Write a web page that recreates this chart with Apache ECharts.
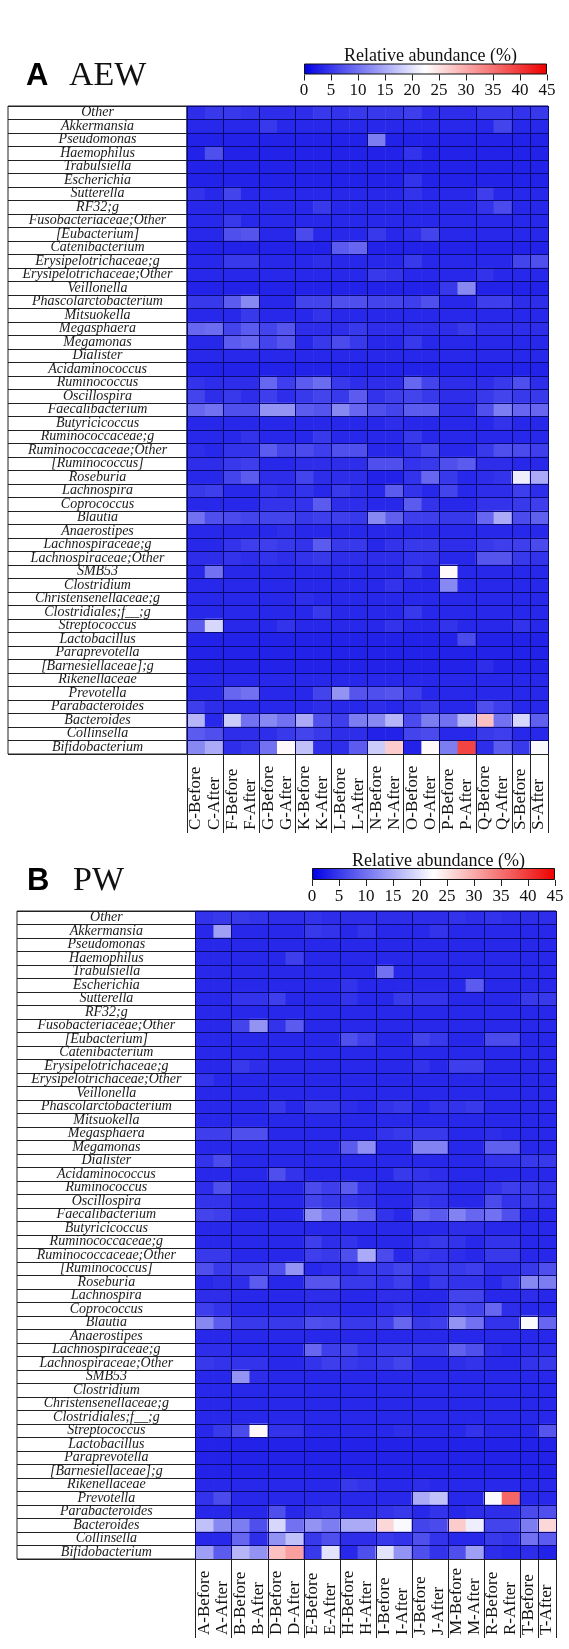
<!DOCTYPE html>
<html><head><meta charset="utf-8">
<script src="https://cdn.jsdelivr.net/npm/echarts@6/dist/echarts.min.js"></script>
<style>html,body{margin:0;padding:0;background:#fff}#c{width:569px;height:1649px}</style>
</head><body><div id="c"></div>
<script>
const taxa = ['Other','Akkermansia','Pseudomonas','Haemophilus','Trabulsiella','Escherichia','Sutterella','RF32;g','Fusobacteriaceae;Other','[Eubacterium]','Catenibacterium','Erysipelotrichaceae;g','Erysipelotrichaceae;Other','Veillonella','Phascolarctobacterium','Mitsuokella','Megasphaera','Megamonas','Dialister','Acidaminococcus','Ruminococcus','Oscillospira','Faecalibacterium','Butyricicoccus','Ruminococcaceae;g','Ruminococcaceae;Other','[Ruminococcus]','Roseburia','Lachnospira','Coprococcus','Blautia','Anaerostipes','Lachnospiraceae;g','Lachnospiraceae;Other','SMB53','Clostridium','Christensenellaceae;g','Clostridiales;f__;g','Streptococcus','Lactobacillus','Paraprevotella','[Barnesiellaceae];g','Rikenellaceae','Prevotella','Parabacteroides','Bacteroides','Collinsella','Bifidobacterium'];

const aewSamples = ['C-Before','C-After','F-Before','F-After','G-Before','G-After','K-Before','K-After','L-Before','L-After','N-Before','N-After','O-Before','O-After','P-Before','P-After','Q-Before','Q-After','S-Before','S-After'];
const pwSamples = ['A-Before','A-After','B-Before','B-After','D-Before','D-After','E-Before','E-After','H-Before','H-After','I-Before','I-After','J-Before','J-After','M-Before','M-After','R-Before','R-After','T-Before','T-After'];

// Relative abundance (%) per taxon (rows, top to bottom) and sample (columns)
const aewValues = [
[4,5,5,4.5,4,4,4,5,4.5,5,5,5,5.5,4,4,4,5,5,4.5,5],
[3.5,3.5,3.5,3.5,5,3.5,3.5,3.5,3.5,3.5,3.5,3.5,3.5,3.5,3.5,3.5,3.5,6,3.5,3.5],
[3,3,3,3,3,3,3,3,3,3,11,3,3,3,3,3,3,3,3,3],
[3,7,3,3,3,3,3,3,3,3,3,3,4.5,3,3,3,3,3,3,3],
[3,3,3,3,3,3,3,3,3,3,3,3,3,3,3,3,3,3,3,3],
[3,3,3,3,3,3,3,3,3,3,3,3,4.5,3,3,3,3,3,3,3],
[4.5,3.5,6,3.5,3.5,3.5,3.5,3.5,3.5,3.5,3.5,3.5,4.5,3.5,3.5,3.5,5.5,3.5,3.5,3.5],
[3.5,3.5,3.5,3.5,3.5,3.5,3.5,5,3.5,3.5,3.5,3.5,3.5,3.5,3.5,3.5,4.5,6.5,3.5,3.5],
[3.5,3.5,5,3.5,3.5,3.5,3.5,3.5,3.5,3.5,3.5,3.5,3.5,3.5,3.5,3.5,3.5,3.5,3.5,3.5],
[3.5,3.5,7,7.5,3.5,3.5,6.5,3.5,3.5,3.5,5,3.5,4,6,3.5,3.5,3.5,3.5,3.5,3.5],
[3,3,3,3,3,3,3,3,8,9,3,3,3,3,3,3,3,3,3,3],
[3.5,3.5,5,5,3.5,3.5,3.5,4,3.5,3.5,3.5,3.5,5,3.5,3.5,3.5,3.5,3.5,6,7],
[3.5,3.5,3.5,3.5,3.5,3.5,3.5,3.5,3.5,3.5,5,4.5,3.5,3.5,3.5,3.5,4.5,3.5,3.5,3.5],
[3,3,3,3,3,3,3,3,3,3,3,3,3,3,5,12,3,3,3,3],
[5,5,8,12,3.5,3.5,6,6,7,7,6,6,5.5,7,3.5,3.5,5.5,5.5,4,4],
[3.5,3.5,3.5,5,3.5,3.5,3.5,4.5,3.5,3.5,3.5,3.5,3.5,3.5,3.5,3.5,3.5,3.5,3.5,3.5],
[9,9.5,6,8,6,7.5,4,4,4,5,4,4,4,4,4,5,4,4,4,4],
[3.5,3.5,8,9,6,7.5,3.5,5,6.5,5,3.5,3.5,5,3.5,3.5,3.5,3.5,3.5,3.5,3.5],
[3.5,3.5,3.5,3.5,3.5,3.5,3.5,3.5,3.5,3.5,3.5,3.5,3.5,3.5,3.5,3.5,3.5,3.5,3.5,3.5],
[3,3,3,3,3,3,3,3,3,3,3,3,3,3,3,3,3,3,3,3],
[4.5,4,4,4,9,5.5,8,9.5,5,4,4,4,9,6,4,4,4,5,7,4],
[6,4,5,4,5.5,4,5,6,5,8,4.5,5.5,6,5,4,4,5,6,5,5],
[9,10,7,7,13,13,8,7.5,12,9,7,6,8,8,4,4,7,11,9,9],
[3.5,3.5,3.5,3.5,3.5,3.5,3.5,3.5,3.5,3.5,3.5,4,3.5,3.5,3.5,3.5,3.5,4.5,3.5,3.5],
[3.5,3.5,3.5,4.5,3.5,3.5,3.5,5,3.5,3.5,3.5,3.5,5,3.5,3.5,3.5,3.5,3.5,3.5,3.5],
[4,3.5,4.5,4.5,8,6,6.5,5.5,7,7,3.5,3.5,4.5,6,3.5,3.5,5,7,6.5,5.5],
[4,4,5,5.5,3.5,3.5,4,4,4,4,7,7,4.5,5,7,8,4,4,3.5,3.5],
[3.5,3.5,6,8,4,4,6,4,4,4,3,3,4.5,9,5,3.5,4,4.5,21,15],
[5,5.5,3.5,3.5,4.5,4,4.5,3.5,5,4,3.5,8,4.5,3.5,6,3.5,4,4,5.5,4],
[3.5,3.5,3.5,3.5,4.5,4.5,4.5,8,4,4,3.5,3.5,8,4.5,3.5,3.5,4.5,4.5,5,5.5],
[10,7,6.5,6,6,6,5,5.5,5.5,5,12,8.5,5.5,5.5,5,5,9,15,6.5,8.5],
[3.5,3.5,3.5,3.5,3.5,4,3.5,3.5,3.5,3.5,3.5,3.5,3.5,3.5,3.5,3.5,3.5,3.5,3.5,3.5],
[3.5,3.5,4.5,5.5,5.5,5,4.5,8,5,5,3.5,4.5,5,5,4,4,5,5.5,5.5,6.5],
[4,4,4.5,4,4.5,4,4.5,5,4,4,4,4,4.5,4.5,3.5,3.5,7.5,7.5,5,4.5],
[3.5,10,3.5,3.5,3.5,3.5,3.5,3.5,3.5,3.5,3.5,3.5,5,3.5,23,3.5,3.5,3.5,3.5,3.5],
[3.5,3.5,3.5,3.5,3.5,3.5,3.5,3.5,3.5,3.5,3.5,4.5,3.5,3.5,12,3.5,3.5,3.5,3.5,3.5],
[3.5,3.5,3.5,3.5,3.5,3.5,4,3.5,3.5,3.5,3.5,3.5,3.5,3.5,3.5,3.5,3.5,3.5,3.5,3.5],
[3.5,3.5,3.5,3.5,3.5,3.5,3.5,5,3.5,3.5,3.5,3.5,5,3.5,3.5,3.5,3.5,3.5,3.5,3.5],
[8,19,3.5,3.5,3.5,4.5,3.5,3.5,3.5,3.5,3.5,4.5,3.5,3.5,4.5,3.5,3.5,3.5,4.5,3.5],
[3,3,3,3,3,3,3,3,3,3,3,3,3,3,3,6.5,3,3,3,3],
[3,3,3,3,3,3,3,3,3,3,3,3,3,3,3,3,3,3,3,3],
[3,3,3,3,3,3,3,3,3,3,3,3,3,3,3,3,4,3,3,3],
[3.5,3.5,3.5,3.5,3.5,3.5,3.5,3.5,3.5,3.5,3.5,3.5,3.5,3.5,3.5,3.5,3.5,3.5,3.5,3.5],
[3.5,3.5,9,10,3.5,3.5,3.5,6,13,7.5,7,7.5,5.5,3.5,3.5,3.5,3.5,3.5,3.5,3.5],
[5.5,4,3.5,3.5,3.5,3.5,3.5,4,3.5,3.5,4,3.5,4,5,3.5,3.5,7,5.5,3.5,3.5],
[16,3.5,18,10,12,10,15,7,5.5,11,12,16,6.5,11,10,16,28,10,19,8.5],
[8,7,4,4,4,5,6,5,4,4,3,3,6,6.5,3.5,3.5,5,5.5,3.5,3.5],
[12,15,4,5,10,23,17,4,4,8,18,27,3,23,11,39,4,8,5,22]
];

const pwValues = [
[4.5,5,5,4.5,4,4,4.5,4,4,4,4,4,4,4,4.5,4,4.5,4,4,4],
[3.5,14,3.5,3.5,3.5,3.5,5,4.5,3.5,4.5,3.5,3.5,3.5,4.5,3.5,3.5,3.5,3.5,3.5,3.5],
[3.5,3.5,3.5,3.5,3.5,3.5,3.5,3.5,3.5,3.5,3.5,3.5,3.5,3.5,3.5,3.5,3.5,3.5,3.5,3.5],
[3.5,3.5,3.5,3.5,3.5,5.5,3.5,3.5,3.5,3.5,3.5,3.5,3.5,3.5,3.5,3.5,3.5,3.5,3.5,3.5],
[3.5,3.5,3.5,3.5,3.5,3.5,3.5,3.5,3.5,3.5,10,3.5,3.5,3.5,3.5,3.5,3.5,3.5,3.5,3.5],
[3.5,3.5,3.5,3.5,3.5,3.5,3.5,3.5,4.5,3.5,3.5,3.5,3.5,3.5,3.5,8,3.5,3.5,3.5,3.5],
[3.5,3.5,4.5,4.5,5.5,3.5,3.5,3.5,4.5,3.5,3.5,5,4.5,4.5,3.5,3.5,3.5,3.5,5,5],
[3.5,3.5,3.5,3.5,3.5,3.5,3.5,3.5,3.5,3.5,3.5,3.5,3.5,3.5,3.5,3.5,3.5,3.5,3.5,3.5],
[3.5,3.5,6,13,4.5,8,3.5,3.5,3.5,3.5,3.5,3.5,3.5,3.5,3.5,3.5,3.5,3.5,3.5,3.5],
[3.5,3.5,3.5,3.5,3.5,3.5,3.5,3.5,7,5.5,3.5,3.5,6,5,3.5,3.5,6.5,6.5,3.5,3.5],
[3.5,3.5,3.5,3.5,3.5,3.5,3.5,3.5,3.5,3.5,3.5,3.5,3.5,3.5,3.5,3.5,3.5,3.5,3.5,3.5],
[3.5,3.5,5,4,3.5,3.5,3.5,3.5,3.5,3.5,3.5,3.5,4.5,3.5,5.5,5.5,3.5,3.5,3.5,3.5],
[4.5,3.5,3.5,3.5,3.5,3.5,3.5,3.5,3.5,3.5,3.5,3.5,3.5,3.5,3.5,3.5,3.5,3.5,3.5,3.5],
[3.5,3.5,3.5,3.5,3.5,3.5,3.5,3.5,3.5,3.5,3.5,3.5,3.5,3.5,3.5,3.5,3.5,3.5,3.5,3.5],
[3.5,3.5,3.5,3.5,5,3.5,5,5,4,3.5,4.5,5,3.5,4.5,4.5,5,3.5,3.5,3.5,3.5],
[3.5,3.5,3.5,3.5,3.5,3.5,3.5,3.5,3.5,3.5,3.5,3.5,3.5,3.5,3.5,3.5,3.5,3.5,3.5,3.5],
[5.5,5.5,7,7,3.5,3.5,3.5,3.5,3.5,3.5,4.5,5,5,5,3.5,3.5,4,3.5,3.5,3.5],
[3.5,3.5,3.5,3.5,3.5,3.5,3.5,3.5,8,12.5,3.5,3.5,11.5,11.5,3.5,3.5,8.5,8.5,3.5,3.5],
[4.5,6.5,3.5,3.5,3.5,3.5,3.5,3.5,3.5,3.5,3.5,3.5,3.5,3.5,3.5,3.5,4.5,4.5,5,5],
[3.5,3.5,3.5,3.5,7,4.5,3.5,3.5,3.5,3.5,3.5,5,4.5,4,3.5,3.5,3.5,3.5,3.5,3.5],
[4,7,3.5,3.5,3.5,3.5,6.5,5.5,8,4.5,3.5,3.5,4.5,4.5,3.5,3.5,4.5,5.5,5,4.5],
[4.5,4.5,3.5,3.5,3.5,3.5,6,5,5,4.5,3.5,3.5,5,4.5,3.5,3.5,6.5,4.5,5,4.5],
[6,5.5,3.5,3.5,3.5,3.5,13,10,11,9,4.5,3.5,9,8,11.5,9,10,7,3.5,3.5],
[3.5,3.5,3.5,3.5,3.5,3.5,3.5,3.5,3.5,3.5,3.5,3.5,3.5,3.5,4,4,3.5,3.5,3.5,3.5],
[3.5,3.5,3.5,3.5,3.5,3.5,5.5,4,4.5,3.5,3.5,3.5,4.5,5,4.5,3.5,4.5,4.5,3.5,3.5],
[5,5,3.5,3.5,3.5,3.5,5.5,5,7,15,6.5,3.5,5,4.5,4,3.5,5,5,3.5,3.5],
[7,5,5.5,5.5,7,13,3.5,4,4,5,5,6,4.5,5,5,5.5,4,4,5,7],
[3.5,4,4,8,3.5,3.5,7.5,7.5,5,5,4.5,5.5,3.5,5,4.5,4.5,3.5,5,12,11],
[4,4,3.5,3.5,3.5,3.5,4,4,3.5,3.5,4,4,3.5,3.5,6,6,3.5,3.5,4,3.5],
[5.5,4.5,3.5,3.5,3.5,3.5,4,4,3.5,3.5,4,4.5,3.5,4,6.5,6,9,4,3.5,3.5],
[12,8,5,5,5,5,7,6.5,5,5,5.5,9,5,5.5,13,10,4.5,4.5,22,9],
[3.5,3.5,3.5,3.5,3.5,3.5,3.5,3.5,3.5,3.5,3.5,3.5,3.5,3.5,3.5,3.5,3.5,3.5,3.5,3.5],
[4,4,3.5,3.5,3.5,3.5,9,5.5,6,4.5,5,5,5,5,8.5,7,4,3.5,4,4],
[5,4.5,4.5,4.5,3.5,3.5,4.5,5.5,5,4.5,5,6,3.5,3.5,4,4.5,3.5,3.5,4.5,5],
[3.5,3.5,13,4,3.5,3.5,3.5,3.5,3.5,3.5,3.5,3.5,3.5,3.5,3.5,3.5,3.5,3.5,3.5,3.5],
[3.5,3.5,3.5,3.5,3.5,3.5,3.5,3.5,3.5,3.5,3.5,3.5,3.5,3.5,3.5,3.5,3.5,3.5,3.5,3.5],
[3.5,3.5,3.5,3.5,3.5,3.5,3.5,3.5,3.5,3.5,3.5,3.5,3.5,3.5,3.5,3.5,3.5,3.5,3.5,3.5],
[3.5,3.5,3.5,3.5,3.5,3.5,3.5,3.5,3.5,3.5,3.5,3.5,3.5,3.5,3.5,3.5,3.5,3.5,3.5,3.5],
[3.5,5,6.5,23,4.5,4.5,3.5,3.5,3.5,3.5,3.5,4,3.5,3.5,3.5,4.5,3.5,3.5,3.5,7.5],
[3,3,3,3,3,3,3,3,3,3,3,3,3,3,3,3,3,3,3,3],
[3,3,3,3,3,3,3,3,3,3,3,3,3,3,3,3,3,3,3,3],
[3,3,3,3,3,3,3,3,3,3,3,3,3,3,3,3,3,3,3,3],
[3.5,3.5,3.5,3.5,3.5,3.5,3.5,3.5,5,4.5,3.5,3.5,4,3.5,3.5,3.5,3.5,3.5,3.5,3.5],
[4.5,6.5,3.5,3.5,3.5,3.5,3.5,3.5,3.5,3.5,3.5,3.5,15,17,3.5,3.5,22,36,3.5,3.5],
[3.5,3.5,3.5,3.5,7,3.5,4.5,5,4,4,4.5,5,3.5,4.5,3.5,4,4,4,6.5,7],
[17,12,11,7,19,10,13,11,15,15,26,22,6,6.5,27,21,6,6,11,26],
[3.5,3.5,9,4,13,17,5,7,4,4,5,4.5,7,4.5,3.5,3.5,5,4.5,10,8],
[14,8,16,13,28,31,5,20,3.5,7,20,13,7,4.5,7,14,4,3.5,4,3]
];

const scaleMin = 0, scaleMax = 45, scaleStep = 5;
const panelLetters = ['A', 'B'];
const panelNames = ['AEW', 'PW'];
const scaleTitle = 'Relative abundance (%)';

function cells(m) {
  const out = [];
  m.forEach((row, r) => row.forEach((v, c) => out.push([c, r, v])));
  return out;
}

const SERIF = 'Liberation Serif';
const rampColors = ['#0000e6', '#ffffff', '#ee0000'];
const lineNavy = '#0a0a70';

const layouts = [
  { labelLeft: 8, heatLeft: 187, heatW: 361, top: 106, H: 648, cbLeft: 304, cbTop: 63.5, cbW: 243, cbH: 11, letterX: 21, nameX: 64, headTop: 56 },
  { labelLeft: 17, heatLeft: 195.7, heatW: 360.3, top: 911, H: 648, cbLeft: 312, cbTop: 868, cbW: 243, cbH: 12, letterX: 22, nameX: 68, headTop: 861 }
];
const sampleSets = [aewSamples, pwSamples];
const valueSets = [aewValues, pwValues];

const grid = [], xAxis = [], yAxis = [], series = [], title = [];

layouts.forEach((L, p) => {
  const g0 = grid.length;
  grid.push({ left: L.labelLeft, top: L.top, width: L.heatLeft - L.labelLeft, height: L.H, show: true, backgroundColor: '#fff', borderColor: '#222', borderWidth: 1 });
  grid.push({ left: L.heatLeft, top: L.top, width: L.heatW, height: L.H, show: true, borderColor: '#222', borderWidth: 1 });
  grid.push({ left: L.cbLeft, top: L.cbTop, width: L.cbW, height: L.cbH, show: false });

  xAxis.push({ gridIndex: g0, type: 'value', min: 0, max: 1, show: false });
  yAxis.push({ gridIndex: g0, type: 'category', data: taxa, inverse: true,
    axisLine: { show: false }, axisTick: { show: false }, axisLabel: { show: false, interval: 0 },
    splitLine: { show: true, interval: 0, lineStyle: { color: '#222', width: 1 } } });

  xAxis.push({ gridIndex: g0 + 1, type: 'category', data: sampleSets[p], position: 'bottom', z: 5,
    axisLine: { show: true, lineStyle: { color: '#222', width: 1 } },
    axisTick: { show: true, interval: 1, length: 79, lineStyle: { color: '#222', width: 1 } },
    axisLabel: { interval: 0, rotate: 90, align: 'left', verticalAlign: 'middle', margin: 76, fontFamily: SERIF, fontSize: 17, color: '#111' },
    splitLine: { show: true, interval: 1, lineStyle: { color: lineNavy, width: 1 } } });
  yAxis.push({ gridIndex: g0 + 1, type: 'category', data: taxa, inverse: true, z: 5,
    axisLine: { show: false }, axisTick: { show: false, interval: 0 },
    axisLabel: { interval: 0, align: 'center', margin: (L.heatLeft - L.labelLeft) / 2, fontFamily: SERIF, fontStyle: 'italic', fontSize: 14, color: '#1a1a1a' },
    splitLine: { show: true, interval: 0, lineStyle: { color: lineNavy, width: 1 } } });

  xAxis.push({ gridIndex: g0 + 2, type: 'value', min: scaleMin, max: scaleMax, interval: scaleStep, position: 'bottom',
    axisLine: { show: false }, splitLine: { show: false },
    axisTick: { show: true, length: 6, lineStyle: { color: '#222', width: 1 } },
    axisLabel: { margin: 8, fontFamily: SERIF, fontSize: 17, color: '#111' } });
  yAxis.push({ gridIndex: g0 + 2, type: 'category', data: ['scale'], show: false });

  title.push({ text: panelLetters[p], left: L.letterX, top: L.headTop, textStyle: { fontFamily: 'Liberation Sans', fontWeight: 'bold', fontSize: 31, color: '#000' } });
  title.push({ text: panelNames[p], left: L.nameX, top: L.headTop - 2, textStyle: { fontFamily: SERIF, fontWeight: 'normal', fontSize: 34, color: '#111' } });
  title.push({ text: scaleTitle, left: L.cbLeft + L.cbW / 2, textAlign: 'center', top: L.cbTop - 21, textStyle: { fontFamily: SERIF, fontWeight: 'normal', fontSize: 18, color: '#111' } });
});

valueSets.forEach((m, p) => {
  series.push({ type: 'heatmap', xAxisIndex: 3 * p + 1, yAxisIndex: 3 * p + 1, data: cells(m), silent: true, itemStyle: { borderWidth: 0 } });
});
layouts.forEach((L, p) => {
  series.push({ type: 'bar', xAxisIndex: 3 * p + 2, yAxisIndex: 3 * p + 2, data: [scaleMax], barWidth: '100%', silent: true,
    itemStyle: { borderColor: '#111', borderWidth: 1,
      color: { type: 'linear', x: 0, y: 0, x2: 1, y2: 0, colorStops: [
        { offset: 0, color: rampColors[0] }, { offset: 0.5, color: rampColors[1] }, { offset: 1, color: rampColors[2] }] } } });
});

const chart = echarts.init(document.getElementById('c'), null, { renderer: 'canvas' });
chart.setOption({
  animation: false,
  backgroundColor: '#fff',
  title, grid, xAxis, yAxis, series,
  visualMap: [{ type: 'continuous', min: scaleMin, max: scaleMax, show: false, seriesIndex: [0, 1], inRange: { color: rampColors } }]
});
</script>
</body></html>
